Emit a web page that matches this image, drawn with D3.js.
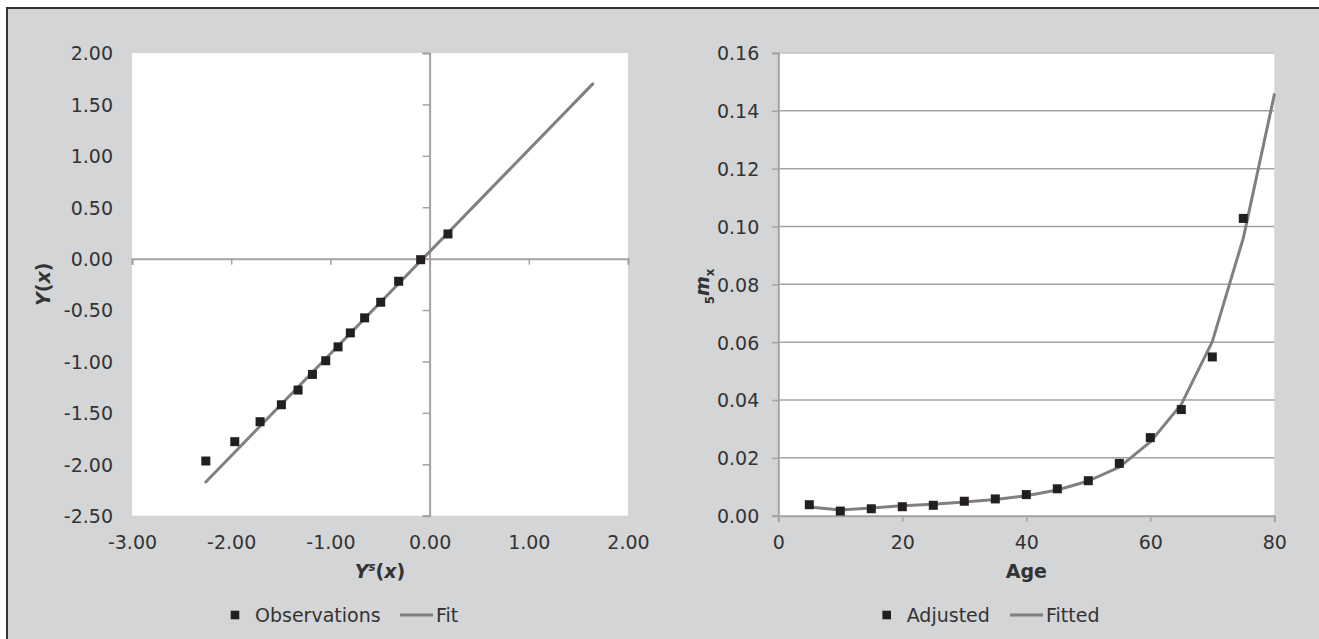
<!DOCTYPE html>
<html><head><meta charset="utf-8">
<script src="https://cdn.jsdelivr.net/npm/d3@7/dist/d3.min.js"></script>
<style>
body{margin:0;background:#fff}
svg{display:block}
text{font-family:"DejaVu Sans",Verdana,sans-serif;fill:#333}
</style>
</head><body>
<svg id="c" width="1319" height="639"></svg>
<script>
// ---- Left panel data ----
const obsX = [-2.256, -1.964, -1.709, -1.494, -1.326, -1.181, -1.047, -0.923, -0.799, -0.655, -0.493, -0.312, -0.09, 0.185];
const obsY = [-1.968, -1.78, -1.586, -1.421, -1.278, -1.126, -0.993, -0.858, -0.722, -0.576, -0.424, -0.22, -0.01, 0.24];
const fitX = [-2.256, 1.645];
const fitY = [-2.172, 1.70];
const leftXTicks = [-3, -2, -1, 0, 1, 2];
const leftYTicks = [-2.5, -2, -1.5, -1, -0.5, 0, 0.5, 1, 1.5, 2];
const leftLegend = ["Observations", "Fit"];

// ---- Right panel data ----
const ages = [5, 10, 15, 20, 25, 30, 35, 40, 45, 50, 55, 60, 65, 70, 75];
const adjusted = [0.0038, 0.0016, 0.0024, 0.0031, 0.0036, 0.0050, 0.0058, 0.0073, 0.0093, 0.0121, 0.0181, 0.0270, 0.0367, 0.0549, 0.1028];
const fittedAges = [5, 10, 15, 20, 25, 30, 35, 40, 45, 50, 55, 60, 65, 70, 75, 80];
const fitted = [0.0030, 0.0020, 0.0027, 0.0034, 0.0040, 0.0047, 0.0056, 0.0069, 0.0089, 0.0120, 0.0168, 0.0255, 0.0385, 0.0602, 0.0960, 0.1456];
const rightXTicks = [0, 20, 40, 60, 80];
const rightYTicks = [0, 0.02, 0.04, 0.06, 0.08, 0.10, 0.12, 0.14, 0.16];
const rightLegend = ["Adjusted", "Fitted"];

const FS = 19;
const AXC = "#a3a3a3";
const LINEC = "#808080";
const MARKC = "#231f20";
const FONT = '"DejaVu Sans",Verdana,sans-serif';
const loc = d3.formatLocale({decimal: ".", thousands: ",", grouping: [3], currency: ["", ""], minus: "-"});
const fmt2 = loc.format(".2f");

const svg = d3.select("#c");
// frame
svg.append("rect").attr("x", 8).attr("y", 9).attr("width", 1311).attr("height", 630).attr("fill", "#d4d5d7");
svg.append("line").attr("x1", 7).attr("x2", 1319).attr("y1", 8).attr("y2", 8).attr("stroke", "#333").attr("stroke-width", 2);
svg.append("line").attr("x1", 7).attr("x2", 7).attr("y1", 7).attr("y2", 639).attr("stroke", "#333").attr("stroke-width", 2);

const plotTop = 53, plotBottom = 515.7;

// ================= LEFT PANEL =================
const lx = d3.scaleLinear().domain([-3, 2]).range([132, 628]);
const ly = d3.scaleLinear().domain([-2.5, 2]).range([plotBottom, plotTop]);
const L = svg.append("g");
L.append("rect").attr("x", lx(-3)).attr("y", plotTop).attr("width", lx(2) - lx(-3)).attr("height", plotBottom - plotTop).attr("fill", "#fff");

// axis lines through origin
const lxAxis = L.append("g").attr("transform", `translate(0,${ly(0)})`)
  .call(d3.axisBottom(lx).tickValues(leftXTicks).tickSize(6).tickFormat(""));
const lyAxis = L.append("g").attr("transform", `translate(${lx(0)},0)`)
  .call(d3.axisLeft(ly).tickValues(leftYTicks).tickSize(7).tickFormat(""));
[lxAxis, lyAxis].forEach(g => {
  g.selectAll("path.domain").attr("stroke", AXC).attr("stroke-width", 2);
  g.selectAll(".tick line").attr("stroke", AXC).attr("stroke-width", 1.5);
});
// tick labels at plot edges
const lxLab = L.append("g").attr("transform", `translate(0,${plotBottom})`)
  .call(d3.axisBottom(lx).tickValues(leftXTicks).tickSize(0).tickPadding(0).tickFormat(fmt2));
lxLab.select("path.domain").remove();
lxLab.selectAll("text").attr("font-size", FS).attr("fill", "#333").attr("y", 33).attr("dy", 0).style("font-family", FONT);
const lyLab = L.append("g").attr("transform", `translate(${lx(-3)},0)`)
  .call(d3.axisLeft(ly).tickValues(leftYTicks).tickSize(0).tickPadding(19).tickFormat(fmt2));
lyLab.select("path.domain").remove();
lyLab.selectAll("text").attr("font-size", FS).attr("fill", "#333").attr("dy", "0.36em").style("font-family", FONT);

// fit line
L.append("path").datum(d3.zip(fitX, fitY))
  .attr("d", d3.line().x(d => lx(d[0])).y(d => ly(d[1])))
  .attr("fill", "none").attr("stroke", LINEC).attr("stroke-width", 3).attr("stroke-linecap", "round");
// observations
L.selectAll("rect.obs").data(d3.zip(obsX, obsY)).join("rect").attr("class", "obs")
  .attr("x", d => lx(d[0]) - 4.5).attr("y", d => ly(d[1]) - 4.5)
  .attr("width", 9).attr("height", 9).attr("fill", MARKC);

// axis titles
const ytL = L.append("text").attr("transform", `translate(50,${(plotTop + plotBottom) / 2}) rotate(-90)`)
  .attr("text-anchor", "middle").attr("font-size", FS).attr("font-weight", "bold");
ytL.append("tspan").attr("font-style", "italic").text("Y");
ytL.append("tspan").text("(");
ytL.append("tspan").attr("font-style", "italic").text("x");
ytL.append("tspan").text(")");
const xtL = L.append("text").attr("x", (lx(-3) + lx(2)) / 2).attr("y", 578)
  .attr("text-anchor", "middle").attr("font-size", FS).attr("font-weight", "bold");
xtL.append("tspan").attr("font-style", "italic").text("Y");
xtL.append("tspan").attr("font-style", "italic").attr("font-size", FS * 0.62).attr("dy", -7).text("s");
xtL.append("tspan").attr("dy", 7).text("(");
xtL.append("tspan").attr("font-style", "italic").text("x");
xtL.append("tspan").text(")");

// legend
function legend(g, x0, labels, lineX0) {
  g.append("rect").attr("x", x0 - 4.3).attr("y", 615 - 4.3).attr("width", 8.6).attr("height", 8.6).attr("fill", MARKC);
  g.append("text").attr("x", x0 + 20).attr("y", 615).attr("dy", "0.36em").attr("font-size", FS).text(labels[0]);
  g.append("line").attr("x1", lineX0).attr("x2", lineX0 + 33).attr("y1", 615).attr("y2", 615)
    .attr("stroke", LINEC).attr("stroke-width", 3);
  g.append("text").attr("x", lineX0 + 36).attr("y", 615).attr("dy", "0.36em").attr("font-size", FS).text(labels[1]);
}
legend(L, 235, leftLegend, 400);

// ================= RIGHT PANEL =================
const rx = d3.scaleLinear().domain([0, 80]).range([778.3, 1274.3]);
const ry = d3.scaleLinear().domain([0, 0.16]).range([plotBottom, plotTop]);
const R = svg.append("g");
R.append("rect").attr("x", rx(0)).attr("y", plotTop).attr("width", rx(80) - rx(0)).attr("height", plotBottom - plotTop).attr("fill", "#fff");
// gridlines
R.selectAll("line.grid").data(rightYTicks.filter(d => d > 0)).join("line").attr("class", "grid")
  .attr("x1", rx(0)).attr("x2", rx(80)).attr("y1", d => ry(d)).attr("y2", d => ry(d))
  .attr("stroke", d => d === 0.16 ? "#c4c4c4" : AXC).attr("stroke-width", 1.5);
const rxAxis = R.append("g").attr("transform", `translate(0,${plotBottom})`)
  .call(d3.axisBottom(rx).tickValues(rightXTicks).tickSize(6).tickPadding(14).tickFormat(loc.format("d")));
const ryAxis = R.append("g").attr("transform", `translate(${rx(0)},0)`)
  .call(d3.axisLeft(ry).tickValues(rightYTicks).tickSize(6).tickPadding(13).tickFormat(fmt2));
[rxAxis, ryAxis].forEach(g => {
  g.selectAll("path.domain").attr("stroke", AXC).attr("stroke-width", 2);
  g.selectAll(".tick line").attr("stroke", AXC).attr("stroke-width", 1.5);
  g.selectAll("text").attr("font-size", FS).attr("fill", "#333").style("font-family", FONT);
});
rxAxis.selectAll("text").attr("y", 33).attr("dy", 0);
ryAxis.selectAll("text").attr("dy", "0.36em");

// fitted curve
R.append("path").datum(d3.zip(fittedAges, fitted))
  .attr("d", d3.line().x(d => rx(d[0])).y(d => ry(d[1])))
  .attr("fill", "none").attr("stroke", LINEC).attr("stroke-width", 3).attr("stroke-linejoin", "round").attr("stroke-linecap", "round");
// adjusted markers
R.selectAll("rect.adj").data(d3.zip(ages, adjusted)).join("rect").attr("class", "adj")
  .attr("x", d => rx(d[0]) - 4.5).attr("y", d => ry(d[1]) - 4.5)
  .attr("width", 9).attr("height", 9).attr("fill", MARKC);

// axis titles
const ytR = R.append("text").attr("transform", `translate(709,${(plotTop + plotBottom) / 2 + 2}) rotate(-90)`)
  .attr("text-anchor", "middle").attr("font-size", FS);
ytR.append("tspan").attr("font-size", FS * 0.62).attr("font-weight", "bold").attr("dy", 5).text("5");
ytR.append("tspan").attr("font-style", "italic").attr("font-weight", "bold").attr("dy", -5).text("m");
ytR.append("tspan").attr("font-size", FS * 0.62).attr("font-weight", "bold").attr("dy", 5).text("x");
R.append("text").attr("x", (rx(0) + rx(80)) / 2).attr("y", 578)
  .attr("text-anchor", "middle").attr("font-size", FS).attr("font-weight", "bold").text("Age");

legend(R, 886.7, rightLegend, 1010);
</script>
</body></html>
